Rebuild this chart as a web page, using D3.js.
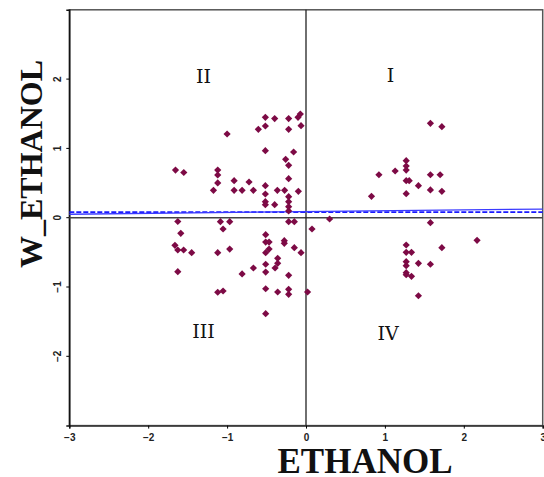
<!DOCTYPE html>
<html>
<head>
<meta charset="utf-8">
<script src="https://cdn.jsdelivr.net/npm/d3@7"></script>
<style>
  body { margin: 0; background: #fff; }
  svg { display: block; }
</style>
</head>
<body>
<div id="chart"></div>
<script>
const width = 544;
const height = 477;

// standardized ethanol values (x) and their spatial lag (y)
const ethanol = [
  -1.654, -1.549, -1.625, -1.587, -1.661, -1.625, -1.551, -1.449, -1.625,
  -0.515, -0.397, -0.220, -0.101, -0.072, -0.063, -0.220, -0.604, -0.515, -1.000,
  -0.515, -0.157, -0.258, -0.220, -1.119, -1.119, -1.119, -0.911, -0.722, -1.173,
  -0.911, -0.810, -0.667, -0.515, -0.515, -0.363, -0.271, -0.097, -0.220, -0.515,
  -0.515, -0.397, -0.220, -0.220, -0.220, -0.220, -1.085, -0.967, -0.220, -0.148,
  0.076, -1.051, -0.511, -0.511, -0.468, -0.275, -0.275, -1.119, -0.967, -0.511,
  -0.468, -0.148, -0.063, -0.359, -0.359, -0.511, -0.667, -0.392, -0.511, -0.810,
  -0.220, -0.511, -0.359, -0.220, -0.220, 0.020, -1.119, -1.051, -0.511, 0.299,
  1.577, 1.722, 1.270, 1.270, 1.270, 1.130, 0.924, 1.577, 1.700, 1.270, 1.308,
  1.425, 1.577, 1.722, 1.270, 0.830, 1.577, 2.168, 1.270, 1.722, 1.270, 1.337,
  1.270, 1.270, 1.425, 1.577, 1.270, 1.270, 1.337, 1.425
];
const wEthanol = [
  0.688, 0.652, -0.055, -0.225, -0.398, -0.466, -0.466, -0.505, -0.779,
  1.449, 1.431, 1.431, 1.449, 1.496, 1.328, 1.276, 1.276, 1.323, 1.208,
  0.967, 0.948, 0.843, 0.756, 0.688, 0.616, 0.501, 0.534, 0.515, 0.395,
  0.395, 0.395, 0.395, 0.462, 0.342, 0.395, 0.395, 0.381, 0.563, 0.231,
  0.188, 0.188, 0.303, 0.231, 0.159, 0.097, -0.058, -0.058, -0.058, -0.058,
  -0.163, -0.163, -0.245, -0.351, -0.351, -0.332, -0.369, -0.505, -0.452, -0.505,
  -0.452, -0.433, -0.505, -0.586, -0.658, -0.672, -0.726, -0.726, -0.784, -0.812,
  -0.831, -1.025, -1.072, -1.033, -1.105, -1.072, -1.076, -1.058, -1.385, -0.019,
  1.362, 1.313, 0.823, 0.746, 0.688, 0.674, 0.620, 0.620, 0.620, 0.534, 0.534,
  0.462, 0.400, 0.381, 0.346, 0.309, -0.072, -0.326, -0.394, -0.433, -0.499, -0.499,
  -0.635, -0.693, -0.658, -0.672, -0.794, -0.823, -0.846, -1.126
];

const xTicks = [-3, -2, -1, 0, 1, 2, 3];
const yTicks = [-2, -1, 0, 1, 2];
const quadrants = [
  { label: "I", x: 1.07, y: 1.96 },
  { label: "II", x: -1.30, y: 1.95 },
  { label: "III", x: -1.30, y: -1.74 },
  { label: "IV", x: 1.04, y: -1.77 }
];
// fitted lines: solid regression, dashed reference
const fitLine = [[-3, 0.05], [3, 0.125]];
const refLine = [[-3, 0.08], [3, 0.08]];

const margin = { left: 69.3, right: 1.3, top: 9.8, bottom: 51.4 };

const x = d3.scaleLinear().domain([-3, 3]).range([margin.left, width - margin.right]);
const y = d3.scaleLinear().domain([-3, 3]).range([height - margin.bottom, margin.top]);

const svg = d3.select("#chart").append("svg")
  .attr("width", width)
  .attr("height", height);

// frame
svg.append("rect")
  .attr("x", x(-3)).attr("y", y(3))
  .attr("width", x(3) - x(-3)).attr("height", y(-3) - y(3))
  .attr("fill", "none")
  .attr("stroke", "#555")
  .attr("stroke-width", 1.5);

// axes
const xAxis = svg.append("g")
  .attr("transform", `translate(0,${y(-3)})`)
  .call(d3.axisBottom(x).tickValues(xTicks).tickSize(3).tickFormat(d3.format("d")));
xAxis.select(".domain").attr("stroke", "#333").attr("stroke-width", 1.5);
xAxis.selectAll("text")
  .attr("font-family", "Liberation Sans, Arial, sans-serif")
  .attr("font-size", 10)
  .attr("font-weight", "bold")
  .attr("fill", "#222")
  .attr("dy", "0.9em");

const yAxis = svg.append("g")
  .attr("transform", `translate(${x(-3)},0)`)
  .call(d3.axisLeft(y).tickValues(yTicks).tickSize(3).tickFormat(d3.format("d")));
yAxis.select(".domain").attr("stroke", "#111").attr("stroke-width", 1.5);
yAxis.selectAll("text")
  .attr("font-family", "Liberation Sans, Arial, sans-serif")
  .attr("font-size", 10)
  .attr("font-weight", "bold")
  .attr("fill", "#222")
  .attr("text-anchor", "middle")
  .attr("x", 0).attr("dy", 0)
  .attr("transform", d => `translate(-12,${y(d)}) rotate(-90)`)
  .attr("y", 3.5);
yAxis.selectAll(".tick").attr("transform", null);
yAxis.selectAll(".tick line").attr("transform", d => `translate(0,${y(d)})`);

// zero lines
svg.append("line")
  .attr("x1", x(-3)).attr("x2", x(3))
  .attr("y1", y(0)).attr("y2", y(0))
  .attr("stroke", "#444").attr("stroke-width", 1.6);
svg.append("line")
  .attr("x1", x(0)).attr("x2", x(0))
  .attr("y1", y(3)).attr("y2", y(-3))
  .attr("stroke", "#222").attr("stroke-width", 1.3);

// blue lines
const line = d3.line().x(d => x(d[0])).y(d => y(d[1]));
svg.append("path")
  .attr("d", line(refLine))
  .attr("fill", "none")
  .attr("stroke", "#1a1aff")
  .attr("stroke-width", 1.8)
  .attr("stroke-dasharray", "5,2");
svg.append("path")
  .attr("d", line(fitLine))
  .attr("fill", "none")
  .attr("stroke", "#3b3bff")
  .attr("stroke-width", 1.3);

// points
const pts = ethanol.map((v, i) => [v, wEthanol[i]]);
svg.append("g").selectAll("path")
  .data(pts)
  .enter().append("path")
  .attr("d", d3.symbol().type(d3.symbolSquare).size(26))
  .attr("transform", d => `translate(${x(d[0])},${y(d[1])}) rotate(45)`)
  .attr("fill", "#7d0a45");

// quadrant labels
svg.append("g").selectAll("text")
  .data(quadrants)
  .enter().append("text")
  .attr("x", d => x(d.x))
  .attr("y", d => y(d.y))
  .attr("text-anchor", "middle")
  .attr("font-family", "DejaVu Serif, serif")
  .attr("font-size", 19)
  .attr("fill", "#111")
  .text(d => d.label);

// axis titles
svg.append("text")
  .attr("x", 365)
  .attr("y", 473)
  .attr("text-anchor", "middle")
  .attr("font-family", "Liberation Serif, Times New Roman, serif")
  .attr("font-weight", "bold")
  .attr("font-size", 35)
  .attr("fill", "#111")
  .text("ETHANOL");

svg.append("text")
  .attr("transform", "translate(42,164) rotate(-90)")
  .attr("text-anchor", "middle")
  .attr("font-family", "Liberation Serif, Times New Roman, serif")
  .attr("font-weight", "bold")
  .attr("font-size", 32)
  .attr("fill", "#111")
  .text("W_ETHANOL");
</script>
</body>
</html>
